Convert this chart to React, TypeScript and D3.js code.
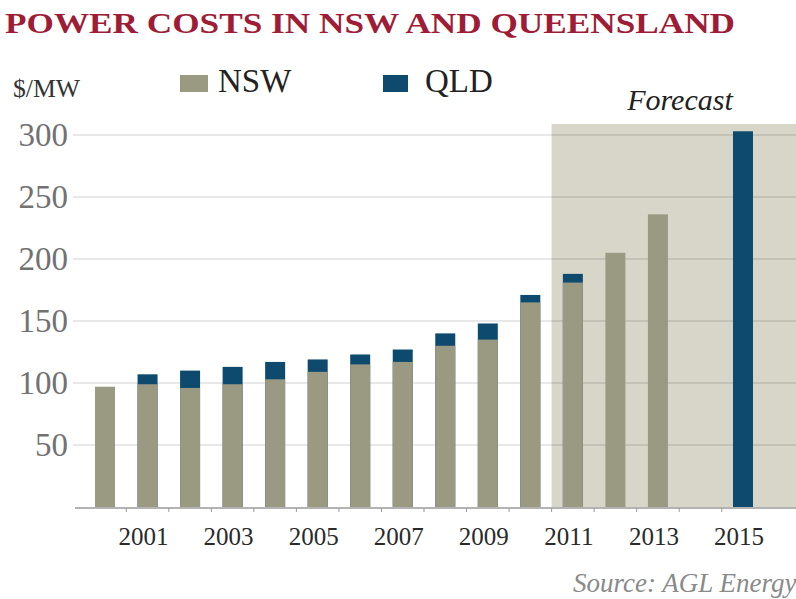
import * as d3 from "d3";

const years = [
  "2000", "2001", "2002", "2003", "2004", "2005", "2006", "2007",
  "2008", "2009", "2010", "2011", "2012", "2013", "2014", "2015",
];
const nswValues = [97, 99, 96, 99, 103, 109, 115, 117, 130, 135, 165, 181, 205, 236, null, null];
const qldValues = [null, 107, 110, 113, 117, 119, 123, 127, 140, 148, 171, 188, null, null, null, 303];
const yTicks = [50, 100, 150, 200, 250, 300];
const xLabels = ["2001", "2003", "2005", "2007", "2009", "2011", "2013", "2015"];
const forecastFrom = "2011";

const W = 796;
const H = 599;
const serif = "'Liberation Serif', 'Times New Roman', serif";

export default function App() {
  let x = d3.scaleBand<string>().domain(years).range([83.75, 764.25]).padding(0);
  let y = d3.scaleLinear().domain([0, 300]).range([507, 135]);
  let bw = x.bandwidth() * 0.47;
  let bx = (yr: string) => (x(yr) as number) + (x.bandwidth() - bw) / 2;

  return (
    <svg
      width={W}
      height={H}
      style={{ position: "absolute", left: 0, top: 0, background: "#fff" }}
      fontFamily={serif}
    >
      {/* title */}
      <text x={5} y={33} fontSize={29} fontWeight="bold" fill="#9e1c36" textLength={730} lengthAdjust="spacingAndGlyphs">
        POWER COSTS IN NSW AND QUEENSLAND
      </text>

      {/* unit + legend */}
      <text x={13} y={97} fontSize={25} fill="#333" textLength={67} lengthAdjust="spacingAndGlyphs">
        $/MW
      </text>
      <rect x={180} y={75} width={28} height={17} fill="#9a9a82" />
      <text x={218} y={92} fontSize={33} fill="#222">NSW</text>
      <rect x={383} y={75} width={25} height={17} fill="#0d4a6e" />
      <text x={425} y={92} fontSize={33} fill="#222">QLD</text>

      {/* forecast shading */}
      <rect
        x={x(forecastFrom)}
        y={y(300) - 11}
        width={W - (x(forecastFrom) as number)}
        height={y(0) - y(300) + 11}
        fill="#d8d5c9"
      />
      <text x={680} y={110} fontSize={30} fontStyle="italic" fill="#222" textAnchor="middle">
        Forecast
      </text>

      {/* grid + y labels */}
      {yTicks.map((t) => (
        <g key={t}>
          <line x1={73} x2={W} y1={y(t)} y2={y(t)} stroke="#000" strokeOpacity={0.12} strokeWidth={1.5} />
          <text x={68} y={y(t) + 11} fontSize={33} fill="#727272" textAnchor="end">
            {t}
          </text>
        </g>
      ))}

      {/* bars: QLD behind, NSW in front */}
      {years.map((yr, i) =>
        qldValues[i] != null ? (
          <rect key={"q" + yr} x={bx(yr)} y={y(qldValues[i] as number)} width={bw} height={y(0) - y(qldValues[i] as number)} fill="#0d4a6e" />
        ) : null
      )}
      {years.map((yr, i) =>
        nswValues[i] != null ? (
          <rect key={"n" + yr} x={bx(yr)} y={y(nswValues[i] as number)} width={bw} height={y(0) - y(nswValues[i] as number)} fill="#9a9a82" />
        ) : null
      )}

      {/* x axis */}
      <line x1={75} x2={W} y1={y(0) + 1} y2={y(0) + 1} stroke="#9a9a9a" strokeWidth={1.5} />
      {years.slice(1).map((yr) => (
        <line key={"t" + yr} x1={x(yr)} x2={x(yr)} y1={y(0) + 1} y2={y(0) + 5} stroke="#9a9a9a" />
      ))}
      {xLabels.map((yr) => (
        <text key={"l" + yr} x={(x(yr) as number) + x.bandwidth() / 2 - 4} y={545} fontSize={25} fill="#2a2a2a" textAnchor="middle">
          {yr}
        </text>
      ))}

      {/* source */}
      <text x={573} y={592} fontSize={27} fontStyle="italic" fill="#8a8a8a">
        Source: AGL Energy
      </text>
    </svg>
  );
}
